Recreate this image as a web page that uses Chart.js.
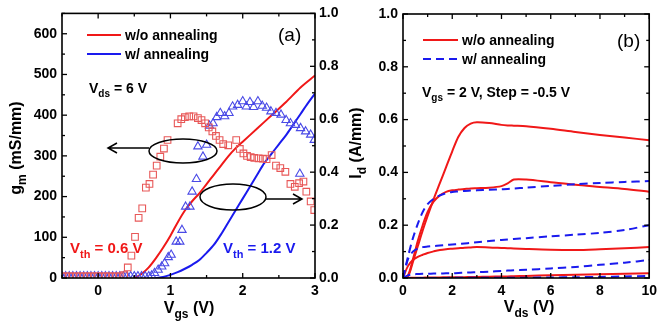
<!DOCTYPE html>
<html>
<head>
<meta charset="utf-8">
<script src="https://cdn.jsdelivr.net/npm/chart.js@4.4.1/dist/chart.umd.min.js"></script>
<style>
  html, body { margin: 0; padding: 0; background: #fff; }
  #wrap { position: relative; width: 662px; height: 326px; overflow: hidden; }
  canvas { position: absolute; top: 0; }
  #chartA { left: 0; }
  #chartB { left: 344px; }
</style>
</head>
<body>
<div id="wrap">
  <canvas id="chartA" width="344" height="326"></canvas>
  <canvas id="chartB" width="318" height="326"></canvas>
</div>
<script>
(function() {
  'use strict';

  var FONT = '"Liberation Sans", Arial, sans-serif';
  var RED = '#f01818';
  var BLUE = '#1a1aee';
  var RED_MK = '#e85858';
  var BLUE_MK = '#4a4ae6';

  // panel (a): gm markers (left axis) and Id lines (right axis), Vds = 6 V
  var gmRawVgs = [-0.5, -0.45, -0.4, -0.35, -0.3, -0.25, -0.2, -0.15, -0.1, -0.05, 0, 0.05, 0.1, 0.15, 0.2, 0.25, 0.3,
    0.36, 0.41, 0.46, 0.51, 0.56, 0.61, 0.66, 0.71, 0.76, 0.81, 0.86, 0.91, 0.96, 1.1, 1.15, 1.2, 1.26, 1.32, 1.38,
    1.43, 1.48, 1.53, 1.58, 1.63, 1.68, 1.73, 1.8, 1.91, 1.96, 2.01, 2.06, 2.11, 2.16, 2.22, 2.28, 2.33, 2.4, 2.46,
    2.52, 2.59, 2.66, 2.72, 2.78, 2.84, 2.88, 2.94, 2.99];
  var gmRaw = [4, 4, 4, 4, 4, 4, 4, 4, 4, 4, 4, 4, 4, 4, 4, 4, 4,
    7, 26, 55, 101, 148, 171, 222, 231, 254, 276, 298, 318, 339, 380, 390, 395, 397, 397, 393,
    388, 380, 370, 360, 349, 339, 329, 326, 339, 317, 306, 300, 297, 295, 294, 293, 292, 302, 276,
    270, 261, 231, 224, 233, 237, 212, 188, 167];

  var gmAnnVgs = [-0.5, -0.45, -0.4, -0.35, -0.3, -0.25, -0.2, -0.15, -0.1, -0.05, 0, 0.05, 0.1, 0.15, 0.2, 0.25,
    0.3, 0.35, 0.4, 0.45, 0.5, 0.55, 0.6, 0.65, 0.7, 0.74,
    0.78, 0.83, 0.88, 0.92, 0.97, 1.01, 1.08, 1.13, 1.16, 1.21, 1.27, 1.3, 1.36, 1.38, 1.45, 1.5, 1.54, 1.59,
    1.64, 1.69, 1.75, 1.81, 1.86, 1.93, 2.0, 2.05, 2.1, 2.15, 2.21, 2.27, 2.33, 2.39, 2.46, 2.53, 2.6, 2.66,
    2.73, 2.79, 2.8, 2.87, 2.94, 2.99];
  var gmAnn = [4, 4, 4, 4, 4, 4, 4, 4, 4, 4, 4, 4, 4, 4, 4, 4,
    4, 4, 4, 4, 4, 4, 4, 4, 4, 6,
    12, 20, 28, 36, 51, 57, 89, 89, 118, 175, 175, 212, 243, 323, 298, 327, 374, 380,
    395, 405, 397, 405, 421, 425, 434, 421, 432, 420, 434, 423, 418, 409, 405, 401, 388, 380,
    376, 256, 368, 360, 352, 339];

  var idRawVgs = [0.5, 0.6, 0.7, 0.8, 0.9, 1.0, 1.1, 1.2, 1.3, 1.4, 1.5, 1.6, 1.7, 1.8, 1.9, 2.0, 2.2, 2.4, 2.6, 2.8, 3.0];
  var idRawA = [0, 0.015, 0.04, 0.075, 0.115, 0.16, 0.21, 0.255, 0.29, 0.32, 0.355, 0.39, 0.425, 0.46, 0.49, 0.515,
    0.565, 0.615, 0.665, 0.72, 0.765];
  var idAnnVgs = [0.8, 0.9, 1.0, 1.1, 1.2, 1.3, 1.4, 1.5, 1.6, 1.7, 1.8, 1.9, 2.0, 2.1, 2.2, 2.3, 2.4, 2.5, 2.6, 2.7,
    2.8, 2.9, 3.0];
  var idAnnA = [0, 0.004, 0.012, 0.022, 0.035, 0.05, 0.068, 0.095, 0.125, 0.165, 0.21, 0.255, 0.3, 0.345, 0.39,
    0.435, 0.47, 0.505, 0.54, 0.58, 0.62, 0.66, 0.697];

  var vgsTicks = [0, 1, 2, 3];
  var gmTicks = [0, 100, 200, 300, 400, 500, 600];
  var idTicks = [0, 0.2, 0.4, 0.6, 0.8, 1.0];

  // panel (b): output curves, Vgs = 2 V, 1.5 V, 1 V, 0.5 V
  var vds = [0, 0.2, 0.4, 0.6, 0.8, 1, 1.25, 1.5, 1.75, 2, 2.25, 2.5, 2.75, 3, 3.5, 4, 4.25, 4.5, 5, 6, 7, 8, 9, 10];
  var raw20 = [0, 0.005, 0.06, 0.12, 0.18, 0.235, 0.3, 0.36, 0.42, 0.48, 0.535, 0.568, 0.585, 0.59, 0.587, 0.58,
    0.578, 0.577, 0.575, 0.565, 0.553, 0.542, 0.532, 0.522];
  var raw15 = [0, 0.01, 0.07, 0.14, 0.2, 0.25, 0.29, 0.313, 0.326, 0.332, 0.335, 0.337, 0.339, 0.34, 0.342, 0.348,
    0.358, 0.373, 0.373, 0.363, 0.353, 0.345, 0.337, 0.327];
  var raw10 = [0, 0.045, 0.068, 0.08, 0.088, 0.095, 0.101, 0.106, 0.109, 0.111, 0.113, 0.115, 0.116, 0.117, 0.116,
    0.114, 0.113, 0.112, 0.11, 0.107, 0.106, 0.109, 0.113, 0.117];
  var raw05 = [0, 0, 0.001, 0.001, 0.001, 0.002, 0.002, 0.002, 0.003, 0.003, 0.003, 0.003, 0.004, 0.004, 0.005,
    0.006, 0.006, 0.007, 0.008, 0.01, 0.012, 0.014, 0.016, 0.018];
  var ann20 = [0, 0.08, 0.15, 0.205, 0.25, 0.28, 0.3, 0.313, 0.321, 0.326, 0.328, 0.33, 0.331, 0.332, 0.334, 0.336,
    0.337, 0.339, 0.342, 0.349, 0.355, 0.36, 0.364, 0.367];
  var ann15 = [0, 0.07, 0.1, 0.112, 0.117, 0.119, 0.121, 0.123, 0.125, 0.127, 0.129, 0.131, 0.133, 0.135, 0.14,
    0.144, 0.146, 0.148, 0.151, 0.158, 0.164, 0.171, 0.182, 0.2];
  var ann10 = [0, 0.01, 0.014, 0.015, 0.016, 0.016, 0.017, 0.017, 0.018, 0.018, 0.019, 0.02, 0.021, 0.022, 0.024,
    0.027, 0.028, 0.029, 0.031, 0.036, 0.042, 0.05, 0.058, 0.068];
  var ann05 = [0, 0, 0, 0, 0, 0, 0, 0, 0, 0.001, 0.001, 0.001, 0.001, 0.001, 0.001, 0.001, 0.001, 0.001, 0.001,
    0.002, 0.003, 0.004, 0.006, 0.008];

  var vdsTicks = [0, 2, 4, 6, 8, 10];

  function pts(xs, ys) {
    return xs.map(function(x, i) { return { x: x, y: ys[i] }; });
  }

  function fixedTicks(list) {
    return function(scale) {
      scale.ticks = list.map(function(v) { return { value: v }; });
    };
  }

  function tickFont() {
    return { family: FONT, size: 14, weight: 'bold' };
  }

  // text with subscripts: parts = [[text, isSub], ...]
  function partsWidth(ctx, parts, fs) {
    var w = 0;
    parts.forEach(function(p) {
      ctx.font = 'bold ' + (p[1] ? Math.round(fs * 0.72) : fs) + 'px ' + FONT;
      w += ctx.measureText(p[0]).width;
    });
    return w;
  }

  function drawParts(ctx, parts, x, y, fs, color) {
    ctx.fillStyle = color;
    ctx.textAlign = 'left';
    ctx.textBaseline = 'alphabetic';
    parts.forEach(function(p) {
      var sub = p[1];
      ctx.font = 'bold ' + (sub ? Math.round(fs * 0.72) : fs) + 'px ' + FONT;
      ctx.fillText(p[0], x, sub ? y + fs * 0.32 : y);
      x += ctx.measureText(p[0]).width;
    });
  }

  function drawCentered(ctx, parts, cx, y, fs) {
    var w = partsWidth(ctx, parts, fs);
    drawParts(ctx, parts, cx - w / 2, y, fs, '#000');
  }

  function drawVertical(ctx, parts, cx, cy, fs) {
    var w = partsWidth(ctx, parts, fs);
    ctx.save();
    ctx.translate(cx, cy);
    ctx.rotate(-Math.PI / 2);
    drawParts(ctx, parts, -w / 2, fs * 0.36, fs, '#000');
    ctx.restore();
  }

  function frame(chart, sides) {
    var ctx = chart.ctx, a = chart.chartArea;
    ctx.save();
    ctx.strokeStyle = '#000';
    ctx.lineWidth = 1.6;
    ctx.strokeRect(a.left, a.top, a.right - a.left, a.bottom - a.top);
    ctx.lineWidth = 1.3;
    sides.forEach(function(s) {
      var sc = chart.scales[s.id];
      var n = Math.round((s.to - s.from) / s.step);
      for (var i = 0; i <= n; i++) {
        var v = s.from + i * s.step;
        var len = (i % s.every === s.offset) ? 5 : 3;
        var p = sc.getPixelForValue(v);
        ctx.beginPath();
        if (s.side === 'bottom') { ctx.moveTo(p, a.bottom); ctx.lineTo(p, a.bottom - len); }
        if (s.side === 'top') { ctx.moveTo(p, a.top); ctx.lineTo(p, a.top + len); }
        if (s.side === 'left') { ctx.moveTo(a.left, p); ctx.lineTo(a.left + len, p); }
        if (s.side === 'right') { ctx.moveTo(a.right, p); ctx.lineTo(a.right - len, p); }
        ctx.stroke();
      }
    });
    ctx.restore();
  }

  function ellipse(ctx, cx, cy, rx, ry) {
    ctx.beginPath();
    ctx.ellipse(cx, cy, rx, ry, 0, 0, Math.PI * 2);
    ctx.stroke();
  }

  function arrow(ctx, x1, x2, y) {
    var d = x2 > x1 ? -1 : 1;
    ctx.beginPath();
    ctx.moveTo(x1, y);
    ctx.lineTo(x2, y);
    ctx.moveTo(x2 + d * 9, y - 5);
    ctx.lineTo(x2, y);
    ctx.lineTo(x2 + d * 9, y + 5);
    ctx.stroke();
  }

  function legendLine(ctx, x1, x2, y, color, dash) {
    ctx.save();
    ctx.strokeStyle = color;
    ctx.lineWidth = 2;
    ctx.setLineDash(dash || []);
    ctx.beginPath();
    ctx.moveTo(x1, y);
    ctx.lineTo(x2, y);
    ctx.stroke();
    ctx.restore();
  }

  var decoA = {
    id: 'decoA',
    afterDatasetsDraw: function(chart) {
      var ctx = chart.ctx;
      frame(chart, [
        { id: 'x', side: 'bottom', from: -0.5, to: 3, step: 0.5, every: 2, offset: 1 },
        { id: 'x', side: 'top', from: -0.5, to: 3, step: 0.5, every: 2, offset: 1 },
        { id: 'yL', side: 'left', from: 0, to: 650, step: 50, every: 2, offset: 0 },
        { id: 'yR', side: 'right', from: 0, to: 1, step: 0.1, every: 2, offset: 0 }
      ]);
      ctx.save();
      legendLine(ctx, 87, 121, 35, RED);
      legendLine(ctx, 87, 121, 54, BLUE);
      drawParts(ctx, [['w/o annealing', false]], 125, 40, 14, '#000');
      drawParts(ctx, [['w/ annealing', false]], 125, 59, 14, '#000');
      ctx.font = '19px ' + FONT;
      ctx.fillStyle = '#000';
      ctx.fillText('(a)', 278, 41);
      drawParts(ctx, [['V', false], ['ds', true], [' = 6 V', false]], 89, 93, 14, '#000');
      drawParts(ctx, [['V', false], ['th', true], [' = 0.6 V', false]], 70, 253, 15, RED);
      drawParts(ctx, [['V', false], ['th', true], [' = 1.2 V', false]], 223, 253, 15, BLUE);
      ctx.strokeStyle = '#000';
      ctx.lineWidth = 1.5;
      ellipse(ctx, 183, 151, 34, 12);
      arrow(ctx, 149, 108, 148);
      ellipse(ctx, 233, 197, 33, 13);
      arrow(ctx, 266, 302, 199);
      drawVertical(ctx, [['g', false], ['m', true], [' (mS/mm)', false]], 15, 148, 16);
      drawCentered(ctx, [['V', false], ['gs', true], [' (V)', false]], 189, 313, 16);
      ctx.restore();
    }
  };

  var decoB = {
    id: 'decoB',
    afterDatasetsDraw: function(chart) {
      var ctx = chart.ctx;
      frame(chart, [
        { id: 'x', side: 'bottom', from: 0, to: 10, step: 1, every: 2, offset: 0 },
        { id: 'x', side: 'top', from: 0, to: 10, step: 1, every: 2, offset: 0 },
        { id: 'y', side: 'left', from: 0, to: 1, step: 0.1, every: 2, offset: 0 },
        { id: 'y', side: 'right', from: 0, to: 1, step: 0.1, every: 2, offset: 0 }
      ]);
      ctx.save();
      legendLine(ctx, 79, 114, 40, RED);
      legendLine(ctx, 79, 114, 59, BLUE, [8, 5]);
      drawParts(ctx, [['w/o annealing', false]], 118, 45, 14, '#000');
      drawParts(ctx, [['w/ annealing', false]], 118, 64, 14, '#000');
      ctx.font = '19px ' + FONT;
      ctx.fillStyle = '#000';
      ctx.fillText('(b)', 273, 47);
      drawParts(ctx, [['V', false], ['gs', true], [' = 2 V, Step = -0.5 V', false]], 78, 97, 14, '#000');
      drawVertical(ctx, [['I', false], ['d', true], [' (A/mm)', false]], 11, 143, 16);
      drawCentered(ctx, [['V', false], ['ds', true], [' (V)', false]], 185, 312, 16);
      ctx.restore();
    }
  };

  Chart.defaults.font.family = FONT;
  Chart.defaults.color = '#000';

  function axisBase(extra) {
    var o = {
      grid: { display: false, drawTicks: false },
      border: { display: false },
      ticks: { font: tickFont(), color: '#000', padding: 5 }
    };
    for (var k in extra) o[k] = extra[k];
    return o;
  }

  function fixWidth(w) { return function(scale) { scale.width = w; }; }
  function fixHeight(h) { return function(scale) { scale.height = h; }; }

  new Chart(document.getElementById('chartA'), {
    type: 'scatter',
    data: {
      datasets: [
        { data: pts(gmRawVgs, gmRaw), yAxisID: 'yL', pointStyle: 'rect', pointRadius: 4.7,
          borderColor: RED_MK, backgroundColor: 'rgba(0,0,0,0)', borderWidth: 1.1, showLine: false },
        { data: pts(gmAnnVgs, gmAnn), yAxisID: 'yL', pointStyle: 'triangle', pointRadius: 4.8,
          borderColor: BLUE_MK, backgroundColor: 'rgba(0,0,0,0)', borderWidth: 1.1, showLine: false },
        { data: pts(idRawVgs, idRawA), yAxisID: 'yR', showLine: true, pointRadius: 0,
          borderColor: RED, borderWidth: 2, tension: 0.3 },
        { data: pts(idAnnVgs, idAnnA), yAxisID: 'yR', showLine: true, pointRadius: 0,
          borderColor: BLUE, borderWidth: 2, tension: 0.3 }
      ]
    },
    options: {
      responsive: false,
      animation: false,
      devicePixelRatio: 1,
      events: [],
      layout: { padding: { top: 13, left: 0, right: 0, bottom: 0 } },
      plugins: { legend: { display: false }, tooltip: { enabled: false } },
      scales: {
        x: axisBase({ type: 'linear', position: 'bottom', min: -0.5, max: 3,
          afterBuildTicks: fixedTicks(vgsTicks), afterFit: fixHeight(48) }),
        yL: axisBase({ type: 'linear', position: 'left', min: 0, max: 650,
          afterBuildTicks: fixedTicks(gmTicks), afterFit: fixWidth(62) }),
        yR: axisBase({ type: 'linear', position: 'right', min: 0, max: 1,
          afterBuildTicks: fixedTicks(idTicks), afterFit: fixWidth(29),
          ticks: { font: tickFont(), color: '#000', padding: 4,
            callback: function(v) { return v.toFixed(1); } } })
      }
    },
    plugins: [decoA]
  });

  function curve(ys, color, dash) {
    return { data: pts(vds, ys), showLine: true, pointRadius: 0, borderColor: color,
      borderWidth: 2, borderDash: dash || [], tension: 0.3 };
  }

  new Chart(document.getElementById('chartB'), {
    type: 'scatter',
    data: {
      datasets: [
        curve(ann20, BLUE, [8, 5]), curve(ann15, BLUE, [8, 5]),
        curve(ann10, BLUE, [8, 5]), curve(ann05, BLUE, [8, 5]),
        curve(raw20, RED), curve(raw15, RED), curve(raw10, RED), curve(raw05, RED)
      ]
    },
    options: {
      responsive: false,
      animation: false,
      devicePixelRatio: 1,
      events: [],
      layout: { padding: { top: 14, left: 0, right: 9, bottom: 0 } },
      plugins: { legend: { display: false }, tooltip: { enabled: false } },
      scales: {
        x: axisBase({ type: 'linear', position: 'bottom', min: 0, max: 10,
          afterBuildTicks: fixedTicks(vdsTicks), afterFit: fixHeight(48) }),
        y: axisBase({ type: 'linear', position: 'left', min: 0, max: 1,
          afterBuildTicks: fixedTicks(idTicks), afterFit: fixWidth(59),
          ticks: { font: tickFont(), color: '#000', padding: 5,
            callback: function(v) { return v.toFixed(1); } } })
      }
    },
    plugins: [decoB]
  });
}());
</script>
</body>
</html>
